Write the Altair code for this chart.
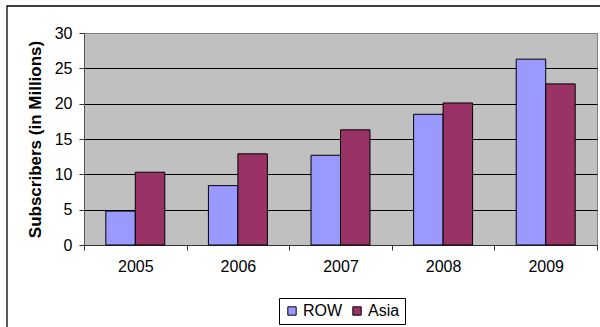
import altair as alt
import pandas as pd

# Subscriber counts by year, in millions
years = ["2005", "2006", "2007", "2008", "2009"]
row_subs = [4.8, 8.4, 12.7, 18.5, 26.3]
asia_subs = [10.3, 12.9, 16.3, 20.1, 22.8]
series_names = ["ROW", "Asia"]
series_colors = ["#9999FF", "#993366"]
y_ticks = [0, 5, 10, 15, 20, 25, 30]

records = []
for i, yr in enumerate(years):
    records.append({"year": yr, "series": "ROW", "value": row_subs[i]})
    records.append({"year": yr, "series": "Asia", "value": asia_subs[i]})
df = pd.DataFrame(records)

FONT = "Liberation Sans"

bars = alt.Chart(df).mark_bar(stroke="black", strokeWidth=1).encode(
    x=alt.X(
        "year:N",
        sort=years,
        title=None,
        scale=alt.Scale(paddingInner=0, paddingOuter=0),
        axis=alt.Axis(
            tickBand="extent",
            labelAngle=0,
            labelFontSize=16,
            labelFont=FONT,
            labelColor="black",
            labelPadding=8,
            tickSize=5,
            tickColor="#333333",
            domainColor="#333333",
            grid=False,
        ),
    ),
    xOffset=alt.XOffset(
        "series:N",
        sort=series_names,
        scale=alt.Scale(paddingInner=0, paddingOuter=0.74),
    ),
    y=alt.Y(
        "value:Q",
        title="Subscribers (in Millions)",
        scale=alt.Scale(domain=[0, 30], nice=False),
        axis=alt.Axis(
            values=y_ticks,
            labelFontSize=16,
            labelFont=FONT,
            labelColor="black",
            labelPadding=7,
            tickSize=5,
            tickColor="#333333",
            domainColor="#555555",
            grid=True,
            gridColor=alt.condition("datum.value >= 30", alt.value("#808080"), alt.value("#000000")),
            gridWidth=1,
            titleFont=FONT,
            titleFontSize=17,
            titleFontWeight="bold",
            titleColor="black",
            titleAngle=-90,
            titleX=-49,
            titleY=106,
            titleBaseline="middle",
            titleAlign="center",
        ),
    ),
    color=alt.Color(
        "series:N",
        sort=series_names,
        scale=alt.Scale(domain=series_names, range=series_colors),
        legend=alt.Legend(
            title=None,
            orient="none",
            legendX=195,
            legendY=265,
            direction="horizontal",
            strokeColor="black",
            padding=5,
            symbolType="square",
            symbolSize=70,
            symbolStrokeColor="black",
            symbolStrokeWidth=1,
            symbolOpacity=1,
            labelFont=FONT,
            labelFontSize=16,
            labelColor="black",
            columnPadding=6,
            labelOffset=3,
        ),
    ),
)

# Outer frame around the whole chart
frame = alt.Chart(pd.DataFrame({"k": [0]})).mark_rect(
    fillOpacity=0, stroke="black", strokeWidth=1.3
).encode(
    x=alt.value(-77), x2=alt.value(600), y=alt.value(-27), y2=alt.value(400)
)

chart = alt.layer(frame, bars).properties(
    width=513,
    height=212,
    autosize=alt.AutoSizeParams(type="none"),
    padding={"left": 84, "top": 33, "right": 3, "bottom": 82},
    background="white",
).configure_view(
    fill="#C0C0C0", stroke="#808080", strokeWidth=1
)

chart.save("out.html", embed_options={"renderer": "svg", "actions": False})
